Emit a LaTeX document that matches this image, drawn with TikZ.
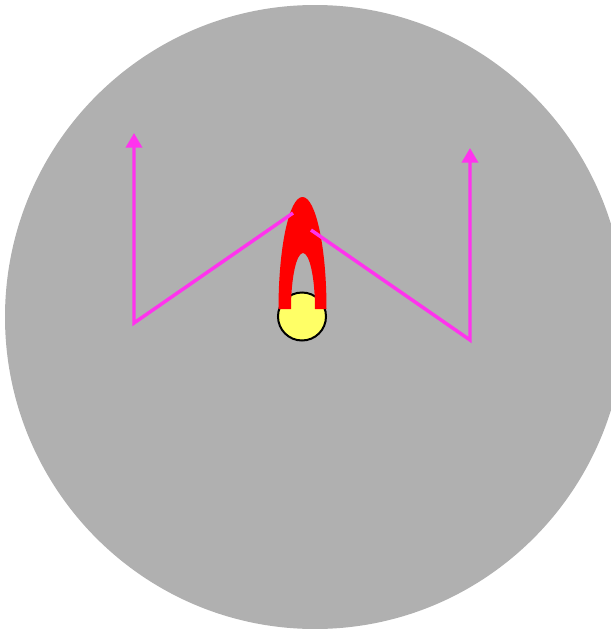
\documentclass[tikz,border=0pt]{standalone}
\usetikzlibrary{arrows.meta}
\definecolor{bggray}{RGB}{176,176,176}
\definecolor{mag}{RGB}{255,51,238}
\definecolor{yel}{RGB}{255,255,102}
\tikzset{
  ray/.style={draw=mag, line width=2.6pt, line join=miter},
  rayarrow/.style={ray, -{Triangle[length=11pt,width=12pt]}},
}
\begin{document}
\begin{tikzpicture}[x=0.75pt,y=-0.75pt]
\useasboundingbox (0,0) rectangle (611,629);
\clip (0,0) rectangle (611,629);
\fill[bggray] (315,317) ellipse [x radius=310, y radius=312];
\draw[fill=yel, line width=1.5pt] (302,316.5) circle [radius=24];
\fill[red] (278.5,309) arc[start angle=180, end angle=360, x radius=24, y radius=112]
  -- (315,309) arc[start angle=360, end angle=180, x radius=12, y radius=56] -- cycle;
\coordinate (l1) at (293,213);
\coordinate (l2) at (134,323);
\coordinate (l3) at (134,133);
\coordinate (r1) at (311,230);
\coordinate (r2) at (470,340);
\coordinate (r3) at (470,148);
\draw[rayarrow] (l1) -- (l2) -- (l3);
\draw[rayarrow] (r1) -- (r2) -- (r3);
\end{tikzpicture}
\end{document}
